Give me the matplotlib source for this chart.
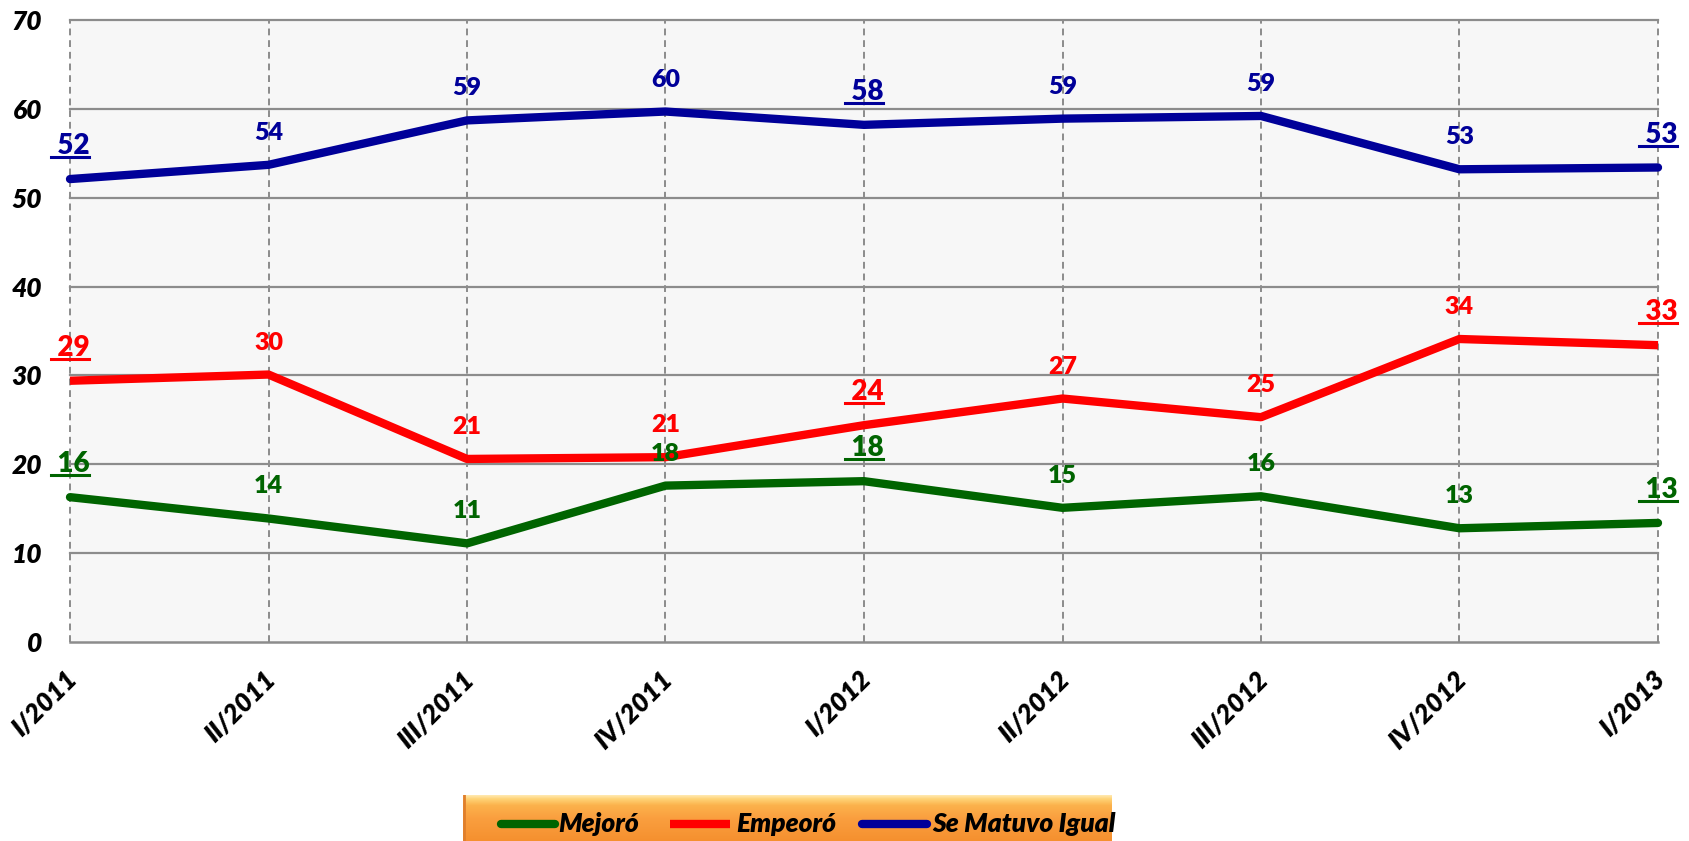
import numpy as np
import matplotlib.pyplot as plt
from matplotlib.lines import Line2D
from matplotlib.transforms import IdentityTransform, ScaledTranslation
from matplotlib.colors import LinearSegmentedColormap

# Data
periods = ['I/2011', 'II/2011', 'III/2011', 'IV/2011', 'I/2012',
           'II/2012', 'III/2012', 'IV/2012', 'I/2013']
mejoro = [16.3, 13.9, 11.1, 17.6, 18.1, 15.1, 16.4, 12.8, 13.4]
empeoro = [29.4, 30.1, 20.6, 20.8, 24.4, 27.4, 25.3, 34.1, 33.4]
igual = [52.1, 53.7, 58.7, 59.7, 58.2, 58.9, 59.2, 53.2, 53.4]
series_names = ['Mejoró', 'Empeoró', 'Se Matuvo Igual']
yticks = [0, 10, 20, 30, 40, 50, 60, 70]

colors = ['#006400', '#ff0000', '#000099']
caps = ['round', 'butt', 'round']
FONT = 'Lato'

W, H = 1690, 841
fig = plt.figure(figsize=(W / 100, H / 100), dpi=100)
ax = fig.add_axes([70 / W, (H - 642) / H, (1658 - 70) / W, (642 - 20) / H])
ax.set_facecolor('#f7f7f7')

x = np.arange(len(periods))
ax.set_xlim(0, len(periods) - 1)
ax.set_ylim(0, 70)
ax.set_yticks(yticks)
ax.set_xticks(x)

# grid: solid horizontal, dashed vertical
for yv in yticks[1:]:
    ax.axhline(yv, color='#8c8c8c', lw=1.6, zorder=1, clip_on=False)
for xv in x:
    ax.axvline(xv, color='#8c8c8c', lw=1.4, ls=(0, (3.5, 2.5)), zorder=1, clip_on=False)
for s in ['left', 'right', 'top']:
    ax.spines[s].set_visible(False)
ax.spines['bottom'].set_color('#8c8c8c')
ax.spines['bottom'].set_linewidth(1.8)

ax.set_yticklabels([str(v) for v in yticks], fontfamily=FONT, fontweight='heavy',
                   fontstyle='italic', fontsize=19)
ax.set_xticklabels(periods, rotation=45, ha='right', va='top', fontfamily=FONT,
                   fontweight='heavy', fontstyle='italic', fontsize=19)
ax.tick_params(axis='y', length=0, pad=20)
ax.tick_params(axis='x', length=0, pad=18)
shift = ScaledTranslation(12 / 100, 0, fig.dpi_scale_trans)
for lab in ax.get_xticklabels():
    lab.set_transform(lab.get_transform() + shift)

underlined = []
for vals, col, cap in zip([mejoro, empeoro, igual], colors, caps):
    ax.plot(x, vals, color=col, lw=6, solid_capstyle=cap, solid_joinstyle='round',
            zorder=3, clip_on=False)
    for i, v in enumerate(vals):
        first_q = periods[i].startswith('I/')
        txt = f"{v:.0f}"
        if first_q:
            txt = ' ' + txt
        t = ax.annotate(txt, (i, v), xytext=(0, 18), textcoords='offset points',
                        ha='center', va='baseline', color=col, fontfamily=FONT,
                        fontweight='heavy', fontsize=20 if first_q else 18, zorder=4)
        if first_q:
            underlined.append((t, i, v, col))

# underline the first-quarter labels
fig.canvas.draw()
renderer = fig.canvas.get_renderer()
for t, i, v, col in underlined:
    bb = t.get_window_extent(renderer)
    px, py = ax.transData.transform((i, v))
    base = py + 18 * 100 / 72 - 3
    fig.add_artist(Line2D([bb.x0, bb.x1], [base, base], color=col, lw=2.2,
                          transform=IdentityTransform()))

# legend box with orange gradient
lx0, lx1, ly1 = 463, 1112, 795
lax = fig.add_axes([lx0 / W, 0, (lx1 - lx0) / W, (H - ly1) / H])
lw_px, lh_px = lx1 - lx0, H - ly1
lax.set_xlim(0, lw_px)
lax.set_ylim(0, lh_px)
lax.axis('off')
cmap = LinearSegmentedColormap.from_list(
    'orange', [(0, '#f5902f'), (0.5, '#fa9f3f'), (0.78, '#fcb24c'),
               (0.92, '#ffd376'), (1, '#ffe9b0')])
grad = np.linspace(0, 1, 100).reshape(-1, 1)
lax.imshow(grad, cmap=cmap, origin='lower', aspect='auto',
           extent=(0, lw_px, 0, lh_px), zorder=0)
lax.plot([1, 1], [0, lh_px], color='#e07f2c', lw=2, zorder=1)

handles = [(38, 92, 95), (207, 267, 273), (399, 464, 469)]
for (h0, h1, tx), name, col, cap in zip(handles, series_names, colors, caps):
    lax.plot([h0, h1], [17, 17], color=col, lw=6, solid_capstyle=cap, zorder=2)
    lax.text(tx, 17, name, ha='left', va='center', fontfamily=FONT, fontweight='heavy',
             fontstyle='italic', fontsize=19, color='black', zorder=3)

fig.savefig('out.png', dpi=100)
